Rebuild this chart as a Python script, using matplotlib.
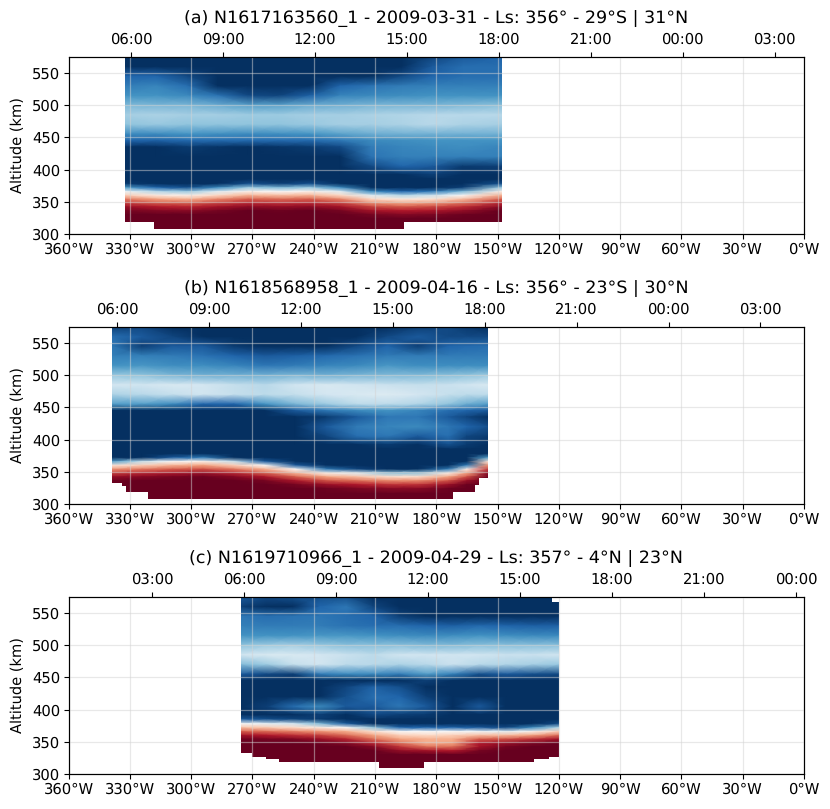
import matplotlib
matplotlib.use('Agg')
import matplotlib.pyplot as plt
import numpy as np
from matplotlib.patches import Polygon

plt.rcParams['text.hinting'] = 'no_hinting'
plt.rcParams['axes.labelsize'] = 10.5

lon_ticks = [360, 330, 300, 270, 240, 210, 180, 150, 120, 90, 60, 30, 0]
alt_ticks = [300, 350, 400, 450, 500, 550]
alt = [575, 560, 545, 530, 515, 500, 485, 470, 455, 445, 435, 420, 405, 392,
       385, 378, 372, 366, 360, 354, 348, 342, 336, 330, 324, 316, 308]

title_a = '(a) N1617163560_1 - 2009-03-31 - Ls: 356° - 29°S | 31°N'
title_b = '(b) N1618568958_1 - 2009-04-16 - Ls: 356° - 23°S | 30°N'
title_c = '(c) N1619710966_1 - 2009-04-29 - Ls: 357° - 4°N | 23°N'

time_labels_a = ['06:00', '09:00', '12:00', '15:00', '18:00', '21:00', '00:00', '03:00']
time_labels_c = ['03:00', '06:00', '09:00', '12:00', '15:00', '18:00', '21:00', '00:00']
time_lon_a = [329.4, 284.4, 239.4, 194.4, 149.4, 104.4, 59.4, 14.4]
time_lon_b = [336.3, 291.3, 246.3, 201.3, 156.3, 111.3, 66.3, 21.3]
time_lon_c = [319.0, 274.0, 229.0, 184.0, 139.0, 94.0, 49.0, 4.0]

# brightness of each cell, 0 = darkest blue, 50 = white, 100 = darkest red
lon_a = [332.5, 317, 302, 287, 272, 257, 242, 227, 212, 197, 182, 167, 148]
val_a = [
    [0, 0, 0, 0, 0, 0, 0, 0, 0, 0, 4, 8, 10],
    [0, 0, 0, 0, 0, 0, 0, 0, 0, 0, 8, 12, 12],
    [10, 10, 5, 0, 0, 0, 0, 0, 0, 5, 10, 12, 12],
    [15, 17, 12, 0, 0, 0, 0, 10, 13, 15, 16, 16, 16],
    [20, 20, 18, 13, 5, 4, 9, 17, 18, 19, 20, 20, 20],
    [28, 27, 27, 25, 23, 23, 25, 26, 27, 27, 27, 28, 29],
    [33, 34, 33, 33, 32, 32, 33, 33, 34, 35, 36, 36, 36],
    [30, 31, 30, 30, 30, 30, 31, 33, 33, 34, 36, 34, 33],
    [18, 18, 20, 19, 18, 19, 20, 23, 25, 26, 26, 26, 26],
    [10, 9, 11, 11, 11, 11, 11, 14, 18, 19, 20, 20, 20],
    [0, 0, 2, 1, 0, 1, 2, 5, 15, 17, 18, 19, 17],
    [0, 0, 0, 0, 0, 0, 0, 0, 13, 16, 16, 16, 16],
    [0, 0, 0, 0, 0, 0, 0, 0, 5, 10, 8, 2, 3],
    [0, 0, 0, 0, 0, 0, 0, 0, 0, 0, 3, 0, 0],
    [0, 0, 0, 0, 0, 0, 0, 0, 0, 0, 0, 0, 0],
    [2, 0, 0, 0, 6, 3, 6, 0, 0, 0, 0, 0, 6],
    [22, 10, 6, 18, 31, 27, 31, 18, 0, 0, 0, 3, 31],
    [47, 35, 31, 43, 53, 50, 53, 43, 18, 10, 14, 27, 53],
    [62, 55, 53, 60, 67, 65, 67, 60, 43, 35, 39, 50, 67],
    [76, 70, 67, 74, 80, 78, 80, 74, 60, 55, 57, 65, 80],
    [85, 81, 80, 84, 88, 87, 88, 84, 74, 70, 72, 78, 88],
    [93, 90, 88, 92, 95, 94, 95, 92, 84, 81, 83, 87, 95],
    [98, 96, 95, 98, 100, 99, 100, 98, 92, 90, 91, 94, 100],
    [100, 100, 100, 100, 100, 100, 100, 100, 98, 96, 97, 99, 100],
    [100, 100, 100, 100, 100, 100, 100, 100, 100, 100, 100, 100, 100],
    [100, 100, 100, 100, 100, 100, 100, 100, 100, 100, 100, 100, 100],
    [100, 100, 100, 100, 100, 100, 100, 100, 100, 100, 100, 100, 100],
]
edge_lon_a = [332.5, 332.5, 318, 318, 196, 196, 148, 148]
edge_alt_a = [575, 318, 318, 308, 308, 318, 318, 575]

lon_b = [338.7, 324, 309, 294, 279, 264, 249, 234, 219, 204, 189, 174, 165, 154.7]
val_b = [
    [3, 5, 0, 0, 0, 0, 0, 0, 0, 0, 3, 5, 2, 0],
    [12, 8, 4, 0, 0, 0, 0, 0, 0, 5, 8, 5, 5, 5],
    [14, 3, 8, 8, 2, 0, 0, 0, 5, 10, 3, 10, 11, 12],
    [16, 16, 15, 13, 10, 8, 9, 11, 13, 15, 15, 15, 15, 15],
    [20, 21, 19, 19, 17, 14, 15, 17, 18, 21, 19, 19, 19, 19],
    [31, 30, 27, 26, 26, 26, 27, 26, 27, 28, 28, 29, 30, 32],
    [41, 40, 42, 41, 38, 36, 40, 42, 40, 39, 38, 39, 40, 42],
    [34, 36, 38, 40, 38, 37, 38, 41, 42, 43, 41, 38, 37, 37],
    [22, 22, 18, 10, 10, 20, 27, 32, 37, 37, 35, 30, 25, 22],
    [0, 0, 0, 0, 0, 0, 8, 14, 18, 20, 17, 12, 10, 8],
    [0, 0, 0, 0, 0, 0, 0, 2, 8, 14, 14, 8, 4, 0],
    [0, 0, 0, 0, 0, 0, 0, 8, 15, 17, 18, 14, 10, 6],
    [0, 0, 0, 0, 0, 0, 0, 4, 12, 14, 8, 12, 4, 2],
    [0, 0, 0, 0, 0, 0, 0, 0, 0, 2, 0, 6, 2, 0],
    [0, 0, 0, 0, 0, 0, 0, 0, 0, 0, 0, 0, 0, 0],
    [0, 0, 0, 0, 0, 0, 0, 0, 0, 0, 0, 0, 0, 0],
    [0, 0, 8, 15, 0, 0, 0, 0, 0, 0, 0, 0, 0, 22],
    [22, 38, 50, 53, 38, 8, 0, 0, 0, 0, 0, 0, 0, 56],
    [56, 62, 67, 70, 62, 50, 8, 0, 0, 0, 0, 0, 15, 72],
    [72, 76, 80, 82, 76, 67, 50, 15, 4, 0, 0, 15, 53, 84],
    [84, 88, 91, 93, 88, 80, 67, 53, 44, 30, 30, 53, 70, 94],
    [94, 96, 98, 99, 96, 91, 80, 70, 65, 59, 59, 70, 82, 99],
    [99, 100, 100, 100, 100, 98, 91, 82, 78, 74, 74, 82, 93, 100],
    [100, 100, 100, 100, 100, 100, 98, 93, 90, 86, 86, 93, 99, 100],
    [100, 100, 100, 100, 100, 100, 100, 99, 97, 95, 95, 99, 100, 100],
    [100, 100, 100, 100, 100, 100, 100, 100, 100, 100, 100, 100, 100, 100],
    [100, 100, 100, 100, 100, 100, 100, 100, 100, 100, 100, 100, 100, 100],
]
edge_lon_b = [338.7, 338.7, 334, 334, 332, 332, 321, 321, 172, 172, 161, 161, 159, 159, 154.7, 154.7]
edge_alt_b = [575, 333, 333, 328, 328, 318, 318, 308, 308, 318, 318, 330, 330, 341, 341, 575]

lon_c = [275.5, 263, 250, 237, 224, 211, 198, 185, 172, 159, 146, 133, 120]
val_c = [
    [8, 5, 6, 6, 6, 0, 0, 0, 0, 0, 0, 0, 0],
    [3, 0, 0, 10, 14, 4, 0, 0, 0, 0, 0, 0, 0],
    [14, 12, 13, 14, 12, 10, 3, 0, 0, 0, 0, 0, 0],
    [16, 15, 15, 15, 13, 12, 12, 10, 9, 11, 10, 9, 9],
    [20, 20, 20, 21, 21, 20, 19, 18, 19, 20, 19, 18, 18],
    [30, 32, 33, 31, 29, 29, 29, 28, 28, 29, 29, 29, 29],
    [40, 42, 42, 41, 39, 37, 40, 40, 40, 40, 39, 39, 40],
    [28, 32, 38, 40, 37, 36, 34, 36, 39, 36, 35, 33, 31],
    [8, 5, 3, 15, 18, 18, 15, 22, 16, 6, 8, 6, 5],
    [0, 0, 0, 0, 0, 0, 0, 3, 0, 0, 0, 0, 0],
    [0, 0, 0, 0, 4, 9, 6, 0, 0, 0, 0, 0, 0],
    [0, 0, 0, 0, 6, 12, 10, 3, 0, 0, 0, 0, 0],
    [0, 3, 12, 18, 8, 8, 14, 8, 0, 8, 0, 0, 0],
    [0, 0, 0, 3, 0, 5, 3, 2, 0, 0, 0, 0, 0],
    [8, 6, 4, 2, 0, 0, 0, 0, 0, 0, 0, 0, 0],
    [50, 45, 40, 28, 8, 0, 0, 0, 0, 0, 0, 0, 5],
    [65, 63, 60, 55, 50, 30, 10, 10, 10, 8, 5, 18, 35],
    [80, 78, 75, 72, 68, 58, 50, 50, 50, 48, 45, 52, 62],
    [92, 90, 87, 84, 78, 70, 62, 60, 62, 65, 66, 70, 78],
    [99, 98, 97, 93, 88, 78, 70, 68, 68, 80, 82, 86, 92],
    [100, 100, 100, 99, 96, 88, 78, 68, 70, 90, 93, 97, 100],
    [100, 100, 100, 100, 100, 96, 86, 78, 78, 92, 98, 100, 100],
    [100, 100, 100, 100, 100, 100, 94, 92, 90, 98, 100, 100, 100],
    [100, 100, 100, 100, 100, 100, 100, 100, 100, 100, 100, 100, 100],
    [100, 100, 100, 100, 100, 100, 100, 100, 100, 100, 100, 100, 100],
    [100, 100, 100, 100, 100, 100, 100, 100, 100, 100, 100, 100, 100],
    [100, 100, 100, 100, 100, 100, 100, 100, 100, 100, 100, 100, 100],
]
edge_lon_c = [275.5, 275.5, 270, 270, 263.5, 263.5, 257, 257, 208, 208, 186, 186, 132, 132, 125, 125, 120, 120, 123.5, 123.5]
edge_alt_c = [575, 333, 333, 327, 327, 323, 323, 319, 319, 309, 309, 319, 319, 323, 323, 327, 327, 568, 568, 575]


def panel(top_px, title, lon, val, edge_lon, edge_alt, time_lon, time_labels):
    W, H = 830.0, 809.0
    ax = fig.add_axes([68.5 / W, 1 - (top_px + 177) / H, 735.5 / W, 177 / H])

    mesh = ax.pcolormesh(lon, alt, np.array(val), cmap='RdBu_r', vmin=0, vmax=100,
                         shading='gouraud', rasterized=True)
    outline = Polygon(np.column_stack([edge_lon, edge_alt]), closed=True,
                      transform=ax.transData, fc='none', ec='none')
    ax.add_patch(outline)
    mesh.set_clip_path(outline)

    ax.set_xlim(360, 0)
    ax.set_ylim(300, 575)
    ax.set_xticks(lon_ticks)
    ax.set_xticklabels([str(t) + '°W' for t in lon_ticks])
    ax.set_yticks(alt_ticks)
    ax.set_ylabel('Altitude (km)', labelpad=5)
    ax.tick_params(labelsize=10.6, pad=2.5)
    ax.set_axisbelow(False)
    ax.grid(color='lightgrey', alpha=0.5, linewidth=0.9)

    top = ax.twiny()
    top.set_xlim(360, 0)
    top.set_xticks(time_lon)
    top.set_xticklabels(time_labels)
    top.tick_params(labelsize=10.6, pad=3.5)
    top.set_title(title, fontsize=12.6, pad=6.5)


fig = plt.figure(figsize=(8.3, 8.09), dpi=100)

panel(57, title_a, lon_a, val_a, edge_lon_a, edge_alt_a, time_lon_a, time_labels_a)
panel(327, title_b, lon_b, val_b, edge_lon_b, edge_alt_b, time_lon_b, time_labels_a)
panel(597, title_c, lon_c, val_c, edge_lon_c, edge_alt_c, time_lon_c, time_labels_c)

fig.savefig('out.png', dpi=100)
